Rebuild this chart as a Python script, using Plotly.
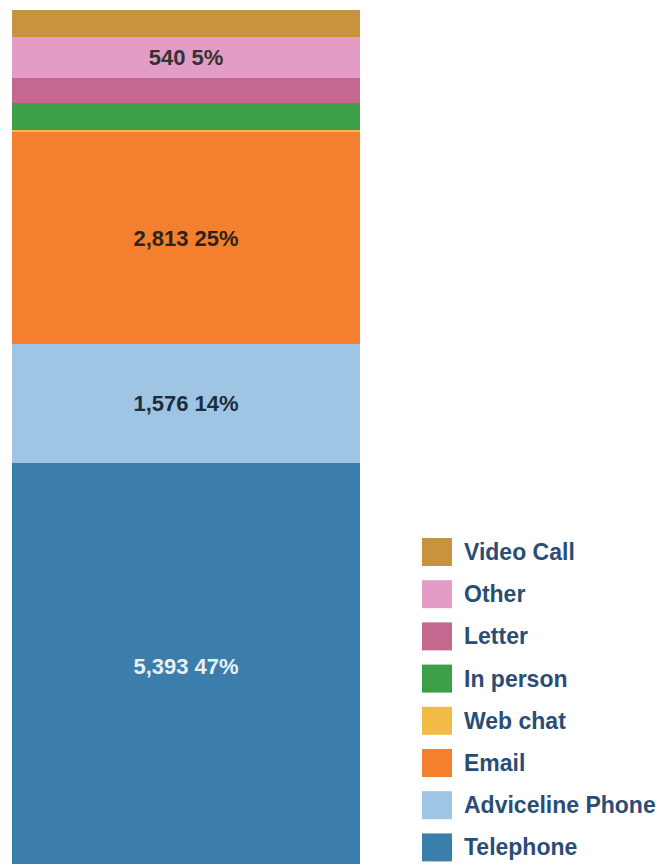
import plotly.graph_objects as go

# Contact channels, stacked bottom to top
categories = ["Telephone", "Adviceline Phone", "Email", "Web chat",
              "In person", "Letter", "Other", "Video Call"]
contacts = [5393, 1576, 2813, 30, 355, 330, 540, 360]
# Channels that carry a value label inside their segment
labelled = ["Telephone", "Adviceline Phone", "Email", "Other"]

colors = {
    "Telephone": "#3b7dab",
    "Adviceline Phone": "#9ec5e4",
    "Email": "#f4802f",
    "Web chat": "#f2bb45",
    "In person": "#3d9e48",
    "Letter": "#c4688f",
    "Other": "#e39cc5",
    "Video Call": "#c8933f",
}
label_colors = {
    "Telephone": "#e8eff4",
    "Adviceline Phone": "#1e2d3c",
    "Email": "#2e221a",
    "Other": "#333333",
}

FONT = "Liberation Sans, Arial, sans-serif"
W, H = 660, 864
M_L, M_R, M_T, M_B = 12, 300, 10, 0
PLOT_W = W - M_L - M_R
PLOT_H = H - M_T - M_B


def px_x(px):
    return (px - M_L) / PLOT_W


def px_y(py):
    return (H - M_B - py) / PLOT_H


total = sum(contacts)

fig = go.Figure()
for cat, val in zip(categories, contacts):
    text = [f"{val:,} {round(100 * val / total)}%"] if cat in labelled else None
    fig.add_trace(go.Bar(
        x=[0], y=[val], width=1, name=cat,
        marker=dict(color=colors[cat], line=dict(width=0)),
        text=text, textposition="inside", insidetextanchor="middle",
        textangle=0,
        textfont=dict(size=22, color=label_colors.get(cat, "#333333"),
                      family=FONT, weight="bold"),
        showlegend=False, hoverinfo="skip",
    ))

# Legend drawn as swatches + labels, top entry = top of the stack
shapes, annotations = [], []
row_top, row_step = 552, 42.2
for i, cat in enumerate(reversed(categories)):
    cy = row_top + i * row_step
    shapes.append(dict(
        type="rect", xref="paper", yref="paper",
        x0=px_x(422), x1=px_x(452), y0=px_y(cy + 14), y1=px_y(cy - 14),
        fillcolor=colors[cat], line=dict(width=0), layer="above",
    ))
    annotations.append(dict(
        text=cat, xref="paper", yref="paper", x=px_x(462), y=px_y(cy),
        xanchor="left", yanchor="middle", showarrow=False,
        font=dict(size=23, color="#2a4d76", family=FONT, weight="bold"),
    ))

fig.update_layout(
    width=W, height=H,
    margin=dict(l=M_L, r=M_R, t=M_T, b=M_B, pad=0),
    barmode="stack", bargap=0,
    paper_bgcolor="white", plot_bgcolor="white",
    xaxis=dict(range=[-0.5, 0.5], visible=False, fixedrange=True),
    yaxis=dict(range=[80, total], visible=False, fixedrange=True),
    shapes=shapes, annotations=annotations,
    showlegend=False,
)

fig.write_html("out.html")
